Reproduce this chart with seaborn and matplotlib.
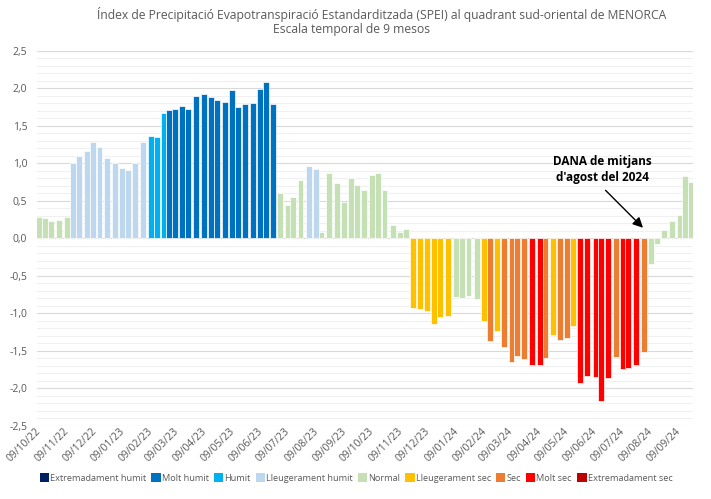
import numpy as np
import pandas as pd
import matplotlib
matplotlib.use('Agg')
import matplotlib.pyplot as plt
import matplotlib.dates as mdates
from matplotlib.patches import Patch
from matplotlib.ticker import MultipleLocator, FuncFormatter
import seaborn as sns

titol = "Índex de Precipitació Evapotranspiració Estandarditzada (SPEI) al quadrant sud-oriental de MENORCA"
subtitol = "Escala temporal de 9 mesos"
nota = "DANA de mitjans\nd'agost del 2024"

classes = ['Extremadament humit', 'Molt humit', 'Humit', 'Lleugerament humit', 'Normal',
           'Lleugerament sec', 'Sec', 'Molt sec', 'Extremadament sec']
colors = ['#002060', '#0070C0', '#00B0F0', '#BDD7EE', '#C5E0B4',
          '#FFC000', '#ED7D31', '#FF0000', '#C00000']

# dies des de la primera data
data_inici = '2022-10-09'
dies = [0, 6, 13, 22, 30, 37, 44, 52, 59, 66, 74, 83, 91, 97, 105, 114, 122, 129, 136, 142,
        149, 156, 163, 172, 180, 188, 195, 203, 211, 218, 225, 234, 242, 248, 256,
        264, 272, 278, 286, 295, 303, 309, 317, 326, 334, 341, 348, 356, 364, 371, 378, 387, 395, 402,
        409, 417, 425, 432, 439, 448, 456, 463, 470, 479, 487, 494, 501, 509, 517, 523, 531, 539,
        548, 554, 562, 570, 578, 584, 592, 600, 609, 615, 623, 631, 639, 645, 653, 662, 670, 676,
        684, 693, 701, 707, 713]

spei = [0.29, 0.27, 0.23, 0.24, 0.29, 1.01, 1.10, 1.17, 1.28, 1.22, 1.07, 1.01, 0.94, 0.91, 1.01,
        1.29, 1.36, 1.35, 1.67, 1.71, 1.73, 1.77, 1.72, 1.90, 1.93, 1.89, 1.84, 1.82, 1.98, 1.75,
        1.79, 1.80, 1.99, 2.09, 1.79,
        0.60, 0.44, 0.55, 0.78, 0.96, 0.92, 0.08, 0.87, 0.74, 0.48, 0.80, 0.71, 0.64, 0.85, 0.87,
        0.64, 0.18, 0.08, 0.13,
        -0.93, -0.95, -0.97, -1.15, -1.05, -1.04, -0.78, -0.80, -0.77, -0.81, -1.10, -1.37, -1.24,
        -1.45, -1.65, -1.57, -1.61, -1.69, -1.69, -1.60, -1.29, -1.36, -1.33, -1.17, -1.93, -1.84,
        -1.85, -2.17, -1.86, -1.58, -1.75, -1.73, -1.69, -1.52, -0.34, -0.08, 0.11, 0.23, 0.31,
        0.83, 0.75]

# index dins de classes
classe = [4, 4, 4, 4, 4, 3, 3, 3, 3, 3, 3, 3, 3, 3, 3, 3, 2, 2, 2, 1,
          1, 1, 1, 1, 1, 1, 1, 1, 1, 1, 1, 1, 1, 1, 1,
          4, 4, 4, 4, 3, 3, 4, 4, 4, 4, 4, 4, 4, 4, 4, 4, 4, 4, 4,
          5, 5, 5, 5, 5, 5, 4, 4, 4, 4, 5, 6, 5, 6, 6, 6, 6, 7,
          7, 6, 5, 6, 6, 5, 7, 7, 7, 7, 7, 6, 7, 7, 7, 6, 4, 4,
          4, 4, 4, 4, 4]

x0 = mdates.date2num(pd.Timestamp(data_inici))
df = pd.DataFrame({
    'x': x0 + np.array(dies, dtype=float),
    'spei': spei,
    'classe': [classes[c] for c in classe],
})

sns.set_theme(style='white')
plt.rcParams['font.family'] = ['Open Sans', 'DejaVu Sans']
gris = '#595959'

fig = plt.figure(figsize=(7.11, 4.99), dpi=100)
ax = fig.add_axes([0.052, 0.147, 0.923, 0.751])

sns.barplot(data=df, x='x', y='spei', hue='classe', hue_order=classes,
            palette=dict(zip(classes, colors)), saturation=1, native_scale=True, dodge=False,
            width=1.08, edgecolor='white', linewidth=0.5, errorbar=None,
            legend=False, ax=ax)

ax.set_ylim(-2.5, 2.5)
ax.set_xlim(x0 - 2.5, x0 + 716)
ax.yaxis.set_major_locator(MultipleLocator(0.5))
ax.yaxis.set_minor_locator(MultipleLocator(0.1))
ax.yaxis.set_major_formatter(FuncFormatter(lambda v, _: f'{v:.1f}'.replace('.', ',')))
ax.xaxis.set_major_locator(mdates.MonthLocator(bymonthday=9))
ax.xaxis.set_major_formatter(mdates.DateFormatter('%d/%m/%y'))
ax.grid(which='major', axis='y', color='#D9D9D9', lw=0.8)
ax.grid(which='minor', axis='y', color='#F0F0F0', lw=0.8)
ax.set_axisbelow(True)
for s in ax.spines.values():
    s.set_visible(False)
ax.tick_params(which='both', length=0)
ax.tick_params(axis='y', pad=7, labelsize=7.5, labelcolor=gris)
ax.tick_params(axis='x', pad=3, labelsize=7.5, labelcolor=gris)
plt.setp(ax.get_xticklabels(), rotation=45, ha='right', va='center', rotation_mode='anchor')
ax.set_xlabel('')
ax.set_ylabel('')

fig.text(382 / 711, 1 - 14 / 499, titol, ha='center', va='center', fontsize=8.7, color=gris)
fig.text(352 / 711, 1 - 30 / 499, subtitol, ha='center', va='center', fontsize=8.7, color=gris)

ax.text(x0 + 617, 0.92, nota, ha='center', va='center', fontsize=8.5,
        fontweight='bold', color='black', linespacing=1.3)
ax.annotate('', xy=(x0 + 661, 0.14), xytext=(x0 + 620, 0.64),
            arrowprops=dict(arrowstyle='-|>,head_length=0.5,head_width=0.25',
                            color='black', lw=1, shrinkA=0, shrinkB=0))

handles = [Patch(facecolor=c, edgecolor='none', label=l) for l, c in zip(classes, colors)]
fig.legend(handles=handles, loc='center', bbox_to_anchor=(356 / 711, 1 - 478 / 499), ncol=9,
           frameon=False, fontsize=6.6, handlelength=1.0, handleheight=1.0,
           handletextpad=0.1, columnspacing=0.6, labelcolor=gris)

fig.savefig('out.png', dpi=100)
